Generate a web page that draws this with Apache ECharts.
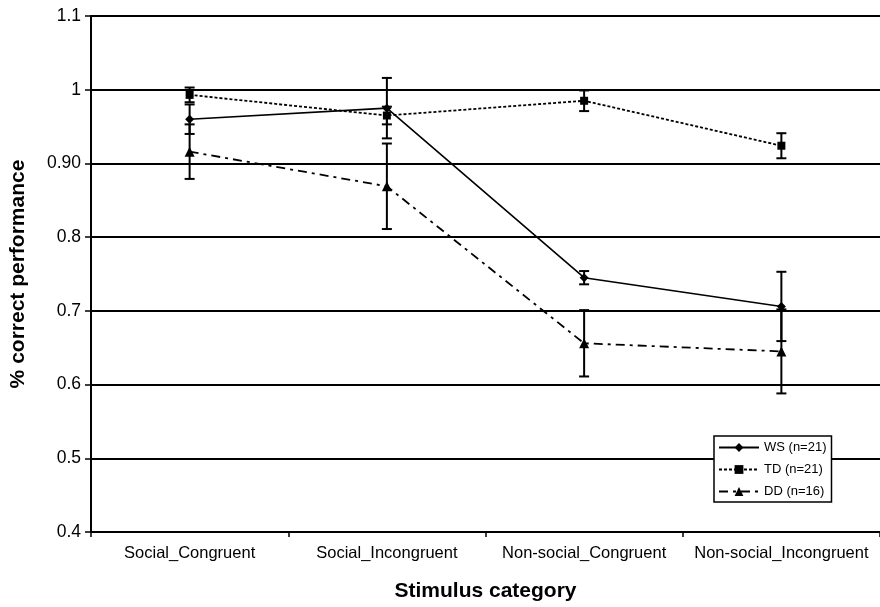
<!DOCTYPE html>
<html>
<head>
<meta charset="utf-8">
<script src="https://cdn.jsdelivr.net/npm/echarts@6/dist/echarts.min.js"></script>
<style>
  html, body { margin: 0; padding: 0; background: #fff; }
  #chart { width: 880px; height: 607px; }
</style>
</head>
<body>
<div id="chart"></div>
<script>
// Stimulus categories on the x axis
const categories = ['Social_Congruent', 'Social_Incongruent', 'Non-social_Congruent', 'Non-social_Incongruent'];

// Group means (proportion correct)
const wsMean = [0.960, 0.975, 0.745, 0.706];
const tdMean = [0.993, 0.965, 0.985, 0.924];
const ddMean = [0.916, 0.869, 0.656, 0.645];

// Error bar half-lengths
const wsErr = [0.020, 0.041, 0.009, 0.047];
const tdErr = [0.010, 0.012, 0.014, 0.017];
const ddErr = [0.037, 0.058, 0.045, 0.057];

// Group names shown in the legend
const groupNames = ['WS (n=21)', 'TD (n=21)', 'DD (n=16)'];

// Y tick labels as printed
const yTickLabels = { '0.4': '0.4', '0.5': '0.5', '0.6': '0.6', '0.7': '0.7', '0.8': '0.8', '0.9': '0.90', '1': '1', '1.1': '1.1' };

const FONT = '"Liberation Sans", Arial, Helvetica, sans-serif';

function errData(mean, err) {
  return mean.map((m, i) => [i, m - err[i], m + err[i]]);
}

function errorBarSeries(mean, err) {
  return {
    type: 'custom',
    silent: true,
    z: 4,
    data: errData(mean, err),
    renderItem: function (params, api) {
      const x = api.value(0);
      const lo = api.coord([x, api.value(1)]);
      const hi = api.coord([x, api.value(2)]);
      const hw = 5;
      const style = { stroke: '#000', lineWidth: 2, fill: null };
      return {
        type: 'group',
        children: [
          { type: 'line', shape: { x1: lo[0], y1: lo[1], x2: hi[0], y2: hi[1] }, style: style },
          { type: 'line', shape: { x1: lo[0] - hw, y1: lo[1], x2: lo[0] + hw, y2: lo[1] }, style: style },
          { type: 'line', shape: { x1: hi[0] - hw, y1: hi[1], x2: hi[0] + hw, y2: hi[1] }, style: style }
        ]
      };
    }
  };
}

const chart = echarts.init(document.getElementById('chart'), null, { renderer: 'canvas' });

chart.setOption({
  backgroundColor: '#fff',
  animation: false,
  grid: { left: 91, right: -3, top: 16, bottom: 75, containLabel: false },
  legend: {
    data: groupNames,
    orient: 'vertical',
    left: 714,
    top: 436,
    backgroundColor: '#fff',
    borderColor: '#000',
    borderWidth: 1.5,
    borderRadius: 0,
    padding: [5, 5, 4, 4],
    itemWidth: 40,
    itemHeight: 11,
    itemGap: 9,
    textStyle: { fontFamily: FONT, fontSize: 13, color: '#000' }
  },
  xAxis: {
    type: 'category',
    data: categories,
    boundaryGap: true,
    name: 'Stimulus category',
    nameLocation: 'middle',
    nameGap: 49,
    nameTextStyle: { fontFamily: FONT, fontSize: 21, fontWeight: 'bold', color: '#000' },
    axisLine: { lineStyle: { color: '#000', width: 2 } },
    axisTick: { show: true, alignWithLabel: false, length: 5, lineStyle: { color: '#000', width: 1.5 } },
    axisLabel: { fontFamily: FONT, fontSize: 16.5, color: '#000', margin: 13, interval: 0 },
    splitLine: { show: false }
  },
  yAxis: {
    type: 'value',
    min: 0.4,
    max: 1.1,
    interval: 0.1,
    name: '% correct performance',
    nameLocation: 'middle',
    nameGap: 62,
    nameRotate: 90,
    nameTextStyle: { fontFamily: FONT, fontSize: 21, fontWeight: 'bold', color: '#000' },
    axisLine: { show: true, lineStyle: { color: '#000', width: 2 } },
    axisTick: { show: true, length: 6, lineStyle: { color: '#000', width: 1.5 } },
    axisLabel: {
      fontFamily: FONT, fontSize: 17.5, color: '#000', margin: 10,
      formatter: function (v) {
        const key = String(Math.round(v * 10) / 10);
        return yTickLabels[key] !== undefined ? yTickLabels[key] : key;
      }
    },
    splitLine: { show: true, lineStyle: { color: '#000', width: 2 } }
  },
  series: [
    {
      name: groupNames[0],
      type: 'line',
      data: wsMean,
      symbol: 'diamond',
      symbolSize: 9,
      z: 5,
      itemStyle: { color: '#000' },
      lineStyle: { color: '#000', width: 1.6, type: 'solid' }
    },
    {
      name: groupNames[1],
      type: 'line',
      data: tdMean,
      symbol: 'rect',
      symbolSize: 8,
      z: 5,
      itemStyle: { color: '#000' },
      lineStyle: { color: '#000', width: 1.8, type: [3, 2] }
    },
    {
      name: groupNames[2],
      type: 'line',
      data: ddMean,
      symbol: 'triangle',
      symbolSize: 10,
      z: 5,
      itemStyle: { color: '#000' },
      lineStyle: { color: '#000', width: 1.8, type: [9, 5, 3, 5] }
    },
    errorBarSeries(wsMean, wsErr),
    errorBarSeries(tdMean, tdErr),
    errorBarSeries(ddMean, ddErr)
  ]
});
</script>
</body>
</html>
